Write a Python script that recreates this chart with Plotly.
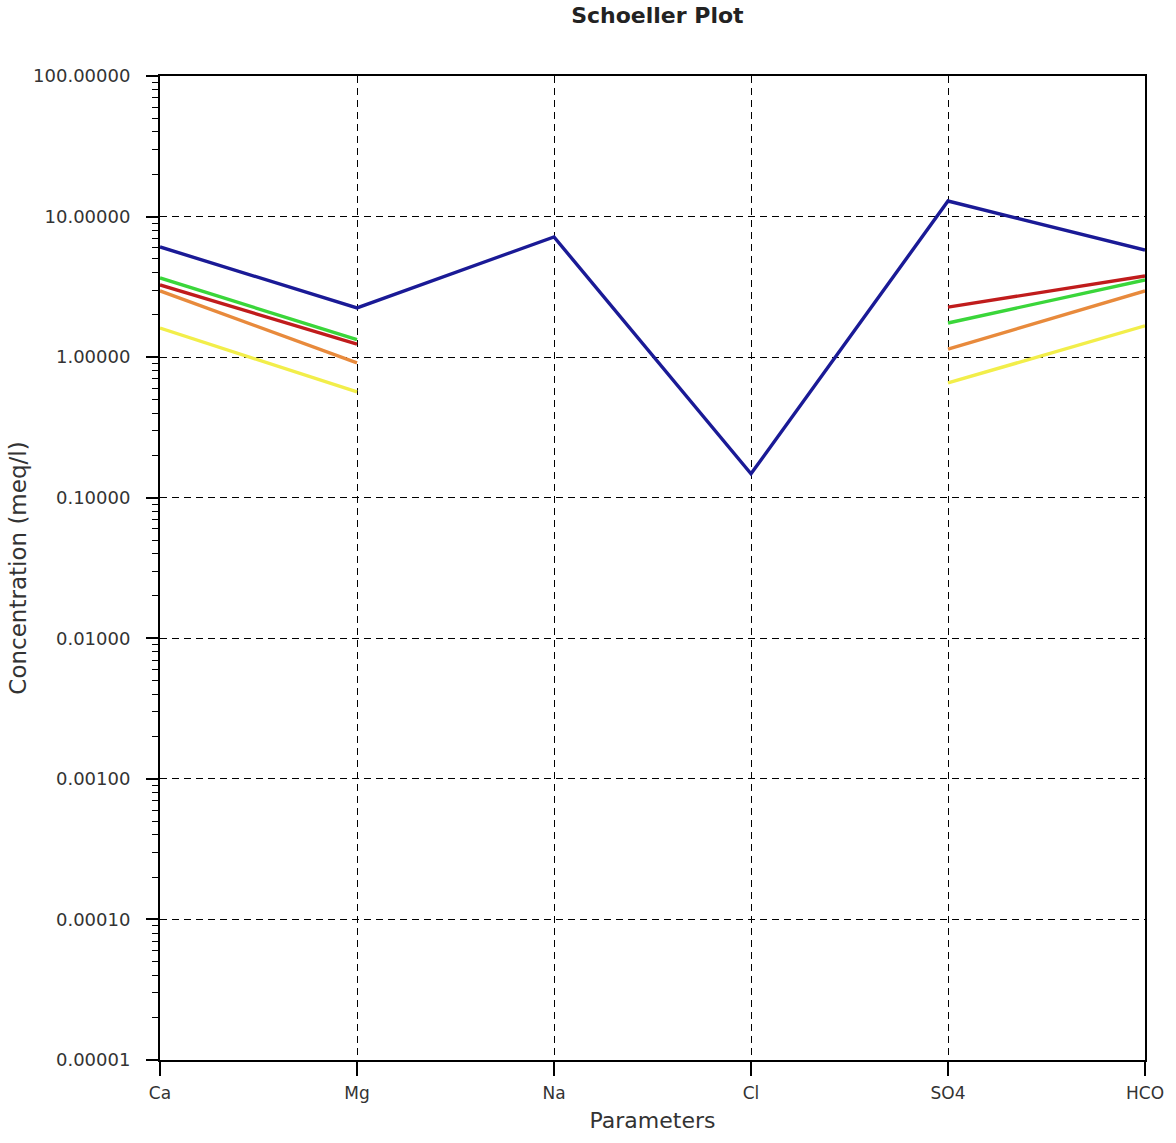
import plotly.graph_objects as go

# Schoeller diagram: ion concentrations (meq/l) per sample
parameters = ["Ca", "Mg", "Na", "Cl", "SO4", "HCO"]

sample_blue = [6.08, 2.24, 7.16, 0.148, 12.9, 5.78]
sample_red = [3.26, 1.24, None, None, 2.27, 3.78]
sample_green = [3.66, 1.33, None, None, 1.75, 3.54]
sample_orange = [2.96, 0.91, None, None, 1.14, 2.96]
sample_yellow = [1.61, 0.566, None, None, 0.656, 1.67]

series = [
    ("Yellow", sample_yellow, "#f2ee4a"),
    ("Orange", sample_orange, "#e88a3c"),
    ("Green", sample_green, "#3ad63a"),
    ("Red", sample_red, "#c01c1c"),
    ("Blue", sample_blue, "#1a1a96"),
]

y_ticks = [0.00001, 0.0001, 0.001, 0.01, 0.1, 1, 10, 100]

fig = go.Figure()
for name, vals, color in series:
    fig.add_trace(go.Scatter(
        x=list(range(len(parameters))), y=vals, mode="lines", name=name,
        line=dict(color=color, width=3.4), connectgaps=False,
    ))

font_family = "DejaVu Sans, Verdana, sans-serif"

fig.update_layout(
    width=1176, height=1143,
    margin=dict(l=160, r=24, t=76, b=83),
    paper_bgcolor="white", plot_bgcolor="white",
    showlegend=False,
    title=dict(text="<b>Schoeller Plot</b>", x=0.559, xanchor="center", y=0.993, yanchor="top",
               font=dict(family=font_family, size=22, color="#222")),
    font=dict(family=font_family, color="#222"),
)

fig.update_xaxes(
    range=[0, len(parameters) - 1],
    tickmode="array", tickvals=list(range(len(parameters))), ticktext=parameters,
    ticks="outside", ticklen=14, tickwidth=2, tickcolor="black",
    tickfont=dict(size=17, color="#333"), ticklabelstandoff=3,
    showline=True, linecolor="black", linewidth=2, mirror=True,
    showgrid=True, gridcolor="black", griddash="7px,5px", gridwidth=1,
    zeroline=False,
    title=dict(text="Parameters", font=dict(size=22, color="#333"), standoff=10),
)

fig.update_yaxes(
    type="log", range=[-5, 2],
    tickmode="array", tickvals=y_ticks, ticktext=[f"{v:.5f}" for v in y_ticks],
    ticks="outside", ticklen=12, tickwidth=2, tickcolor="black",
    tickfont=dict(size=18, color="#333"), ticklabelstandoff=12,
    minor=dict(ticks="outside", ticklen=6, tickwidth=1, tickcolor="black",
               tickvals=[m * 10 ** e for e in range(-5, 2) for m in range(2, 10)],
               showgrid=False),
    showline=True, linecolor="black", linewidth=2, mirror=True,
    showgrid=True, gridcolor="black", griddash="7px,5px", gridwidth=1,
    zeroline=False,
    title=dict(text="Concentration (meq/l)", font=dict(size=23, color="#333"), standoff=0),
)

fig.write_html("out.html")
